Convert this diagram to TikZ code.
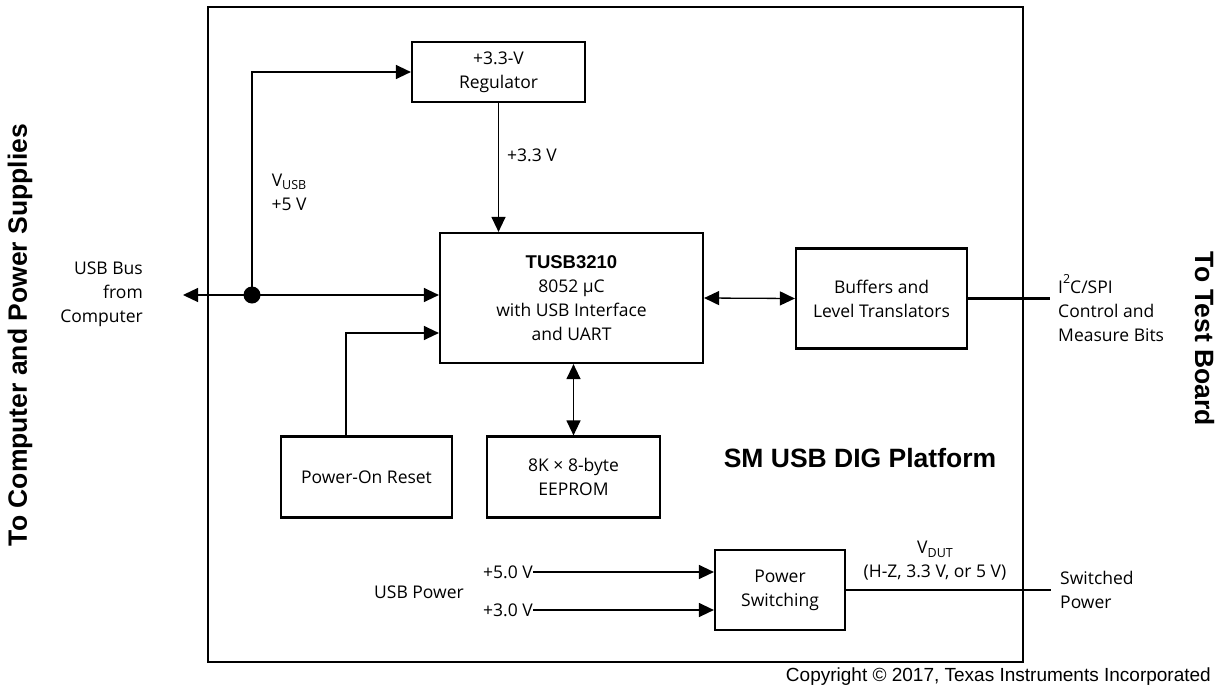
\documentclass[tikz,border=0pt]{standalone}
\usepackage{fontspec}
\setmainfont{Open Sans}
\newfontfamily\arialf{Liberation Sans}
\usetikzlibrary{arrows.meta}
\newcommand\regfont{\fontsize{17.5}{24}\selectfont}
\newcommand\bigb{\arialf\bfseries\fontsize{26.5}{30}\selectfont}
\newcommand\subsc[1]{\raisebox{-0.4ex}{\fontsize{12.5}{12.5}\selectfont #1}}
\tikzset{
  blk/.style={draw, line width=2.2pt, inner sep=0pt, align=center, font=\regfont},
  lbl/.style={inner sep=0pt, font=\regfont},
  conn/.style={line width=1.3pt},
  arr/.style={conn, -{Triangle[length=15pt,width=14pt]}},
  biarr/.style={conn, {Triangle[length=15pt,width=14pt]}-{Triangle[length=15pt,width=14pt]}},
  thickline/.style={line width=2.5pt}
}
\begin{document}
\begin{tikzpicture}[x=1pt,y=-1pt]
\useasboundingbox (0,0) rectangle (1217,688);
% frame
\draw[thickline] (208,7) rectangle (1023,662);
% blocks
\node[blk, minimum width=173pt, minimum height=60pt] (reg) at (498.5,72) {+3.3-V\\Regulator};
\node[blk, minimum width=263pt, minimum height=130pt] (tusb) at (571.5,298) {{\arialf\bfseries\fontsize{18.5}{24}\selectfont TUSB3210}\\8052 μC\\with USB Interface\\and UART};
\node[blk, minimum width=171pt, minimum height=100pt] (buf) at (881.5,298.5) {Buffers and\\Level Translators};
\node[blk, minimum width=171pt, minimum height=81pt] (por) at (366.5,477) {Power-On Reset};
\node[blk, minimum width=173pt, minimum height=81pt] (eep) at (573.5,477) {8K × 8-byte\\EEPROM};
\node[blk, minimum width=130pt, minimum height=80pt] (psw) at (780,590) {Power\\Switching};
% junction and free ends
\node[circle, fill, inner sep=0pt, minimum size=17pt] (dot) at (252,295) {};
\coordinate (usbL) at (183,295);
\coordinate (i2cEnd) at (1050,298.5);
\coordinate (pwEnd) at (1051,590);
% labels
\node[lbl, align=right, anchor=east] (usbbus) at (143,294) {USB Bus\\from\\Computer};
\node[lbl, align=center] (vusb) at (289,192) {V\subsc{USB}\\+5 V};
\node[lbl, anchor=west] (v33) at (507,155) {+3.3 V};
\node[lbl, align=left, anchor=west] (i2c) at (1058,308) {I\raisebox{1.0ex}{\fontsize{12.5}{12.5}\selectfont 2}C/SPI\\Control and\\Measure Bits};
\node[lbl, align=center] (vdut) at (935,560.5) {V\subsc{DUT}\\(H-Z, 3.3 V, or 5 V)};
\node[lbl, align=left, anchor=west] (swp) at (1060,590) {Switched\\Power};
\node[lbl] (usbp) at (419,592) {USB Power};
\node[lbl, anchor=east] (p5) at (533,572) {+5.0 V};
\node[lbl, anchor=east] (p3) at (533,610) {+3.0 V};
\node[inner sep=0pt, font=\bigb] (plat) at (860,458) {SM USB DIG Platform};
\node[inner sep=0pt, font=\bigb, rotate=90, anchor=base] (lside) at (27,335) {To Computer and Power Supplies};
\node[inner sep=0pt, font=\bigb, rotate=-90, anchor=base] (rside) at (1195,339) {To Test Board};
\node[inner sep=0pt, font=\arialf\fontsize{19}{20}\selectfont, anchor=east] (copy) at (1211,677) {Copyright © 2017, Texas Instruments Incorporated};
% connectors
\draw[arr] (dot.center) -- (usbL);
\draw[arr] (dot.center) -- (dot.center -| tusb.west);
\draw[arr] (dot.center) |- (reg.west);
\draw[arr] (reg.south) -- (reg.south |- tusb.north);
\draw[arr] ([xshift=-20.5pt]por.north) |- ([yshift=-35pt]tusb.west);
\draw[biarr] (tusb.south -| eep.north) -- (eep.north);
\draw[biarr] (tusb.east) -- (buf.west);
\draw[thickline] (buf.east) -- (i2cEnd);
\draw[thickline] (psw.east) -- (pwEnd);
\draw[arr] (p5.east) -- (p5.east -| psw.west);
\draw[arr] (p3.east) -- (p3.east -| psw.west);
\end{tikzpicture}
\end{document}
